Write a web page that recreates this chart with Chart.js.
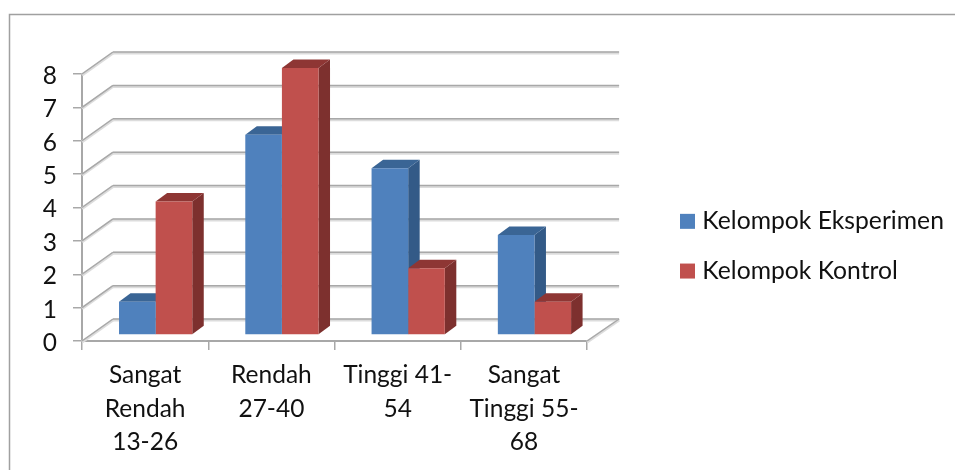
<!DOCTYPE html>
<html>
<head>
<meta charset="utf-8">
<style>
  html, body { margin: 0; padding: 0; background: #fff; }
  canvas { display: block; }
</style>
<script src="https://cdn.jsdelivr.net/npm/chart.js@4/dist/chart.umd.min.js"></script>
</head>
<body>
<canvas id="c" width="955" height="470"></canvas>
<script>
const categories = [['Sangat', 'Rendah', '13-26'], ['Rendah', '27-40'], ['Tinggi 41-', '54'], ['Sangat', 'Tinggi 55-', '68']];
const eksperimen = [1, 6, 5, 3];
const kontrol = [4, 8, 2, 1];

const FONT = 'Lato, "Open Sans", sans-serif';
const GRID = '#a8a8a8';
const GRID_SOFT = '#dcdcdc';

// depth of the fake 3d box and of the bars
const WALL_DX = 31, WALL_DY = -22;
const BAR_SHIFT_X = 10.5, BAR_SHIFT_Y = -6;
const FACE_DX = 11.5, FACE_DY = -8.5;

const faceColors = [
  { top: '#3a6595', side: '#335a87' },
  { top: '#8e3634', side: '#7d302e' }
];

function softLine(ctx, x1, y1, x2, y2) {
  ctx.beginPath();
  ctx.moveTo(x1, y1 + 1);
  ctx.lineTo(x2, y2 + 1);
  ctx.strokeStyle = GRID_SOFT;
  ctx.lineWidth = 3;
  ctx.stroke();
  ctx.beginPath();
  ctx.moveTo(x1, y1);
  ctx.lineTo(x2, y2);
  ctx.strokeStyle = GRID;
  ctx.lineWidth = 1.5;
  ctx.stroke();
}

function poly(ctx, pts, color) {
  ctx.beginPath();
  pts.forEach((p, i) => i ? ctx.lineTo(p[0], p[1]) : ctx.moveTo(p[0], p[1]));
  ctx.closePath();
  ctx.fillStyle = color;
  ctx.fill();
}

const box3d = {
  id: 'box3d',
  beforeDraw(chart) {
    const ctx = chart.ctx;
    ctx.save();
    ctx.fillStyle = '#fff';
    ctx.fillRect(0, 0, chart.width, chart.height);
    // outer frame, only left and top are inside the picture
    ctx.strokeStyle = '#a0a0a0';
    ctx.lineWidth = 1.5;
    ctx.beginPath();
    ctx.moveTo(9.5, 470);
    ctx.lineTo(9.5, 14.5);
    ctx.lineTo(955, 14.5);
    ctx.stroke();
    ctx.restore();
  },
  beforeDatasetsDraw(chart) {
    const ctx = chart.ctx, y = chart.scales.y, a = chart.chartArea;
    ctx.save();
    // back wall and side wall lines
    y.ticks.forEach(t => {
      const py = y.getPixelForValue(t.value);
      softLine(ctx, a.left, py, a.left + WALL_DX, py + WALL_DY);
      softLine(ctx, a.left + WALL_DX, py + WALL_DY, a.right + WALL_DX + 1, py + WALL_DY);
    });
    // right edge of the floor
    softLine(ctx, a.right, a.bottom, a.right + WALL_DX + 1, a.bottom + WALL_DY);

    // side and top of every bar, fronts come after from the library
    [0, 1].forEach(d => {
      chart.getDatasetMeta(d).data.forEach(b => {
        const l = b.x - b.width / 2 + BAR_SHIFT_X, r = b.x + b.width / 2 + BAR_SHIFT_X;
        const t = b.y + BAR_SHIFT_Y, f = b.base + BAR_SHIFT_Y;
        poly(ctx, [[r, t], [r + FACE_DX, t + FACE_DY], [r + FACE_DX, f + FACE_DY], [r, f]], faceColors[d].side);
        poly(ctx, [[l, t], [r, t], [r + FACE_DX, t + FACE_DY], [l + FACE_DX, t + FACE_DY]], faceColors[d].top);
      });
    });
    ctx.restore();
    // fronts sit slightly inside the box
    ctx.save();
    ctx.translate(BAR_SHIFT_X, BAR_SHIFT_Y);
  },
  afterDatasetsDraw(chart) {
    chart.ctx.restore();
  },
  afterLayout(chart) {
    // legend sits right of the box, around the middle of the plot
    const lg = chart.legend;
    lg.top = 184;
    lg.bottom = lg.top + lg.height;
    lg.left = 660;
    lg.right = lg.left + lg.width;
  }
};

new Chart(document.getElementById('c'), {
  type: 'bar',
  data: {
    labels: categories,
    datasets: [
      { label: 'Kelompok Eksperimen', data: eksperimen, backgroundColor: '#4f81bd' },
      { label: 'Kelompok Kontrol', data: kontrol, backgroundColor: '#c0504d' }
    ]
  },
  options: {
    responsive: false,
    animation: false,
    devicePixelRatio: 1,
    layout: { padding: { top: 74, right: 74, left: 0, bottom: 0 } },
    categoryPercentage: 0.58,
    barPercentage: 1,
    plugins: {
      tooltip: { enabled: false },
      legend: {
        position: 'right',
        align: 'start',
        maxWidth: 400,
        labels: {
          color: '#111',
          usePointStyle: true,
          pointStyle: 'rect',
          boxWidth: 5,
          boxHeight: 15,
          padding: 25,
          font: { family: FONT, size: 24.7 }
        }
      }
    },
    scales: {
      x: {
        afterFit: s => { s.height = 129; },
        grid: { drawOnChartArea: false, color: GRID, lineWidth: 1.5, tickLength: 9 },
        border: { color: GRID, width: 2 },
        ticks: { color: '#111', padding: 9, maxRotation: 0, autoSkip: false, font: { family: FONT, size: 24.5, lineHeight: 1.35 } }
      },
      y: {
        min: 0,
        max: 8,
        afterFit: s => { s.width = 82; },
        grid: { drawOnChartArea: false, color: GRID, lineWidth: 1.5, tickLength: 9 },
        border: { color: GRID, width: 2 },
        ticks: { stepSize: 1, color: '#111', padding: 16, labelOffset: 2, font: { family: FONT, size: 24.5 } }
      }
    }
  },
  plugins: [box3d]
});
</script>
</body>
</html>
